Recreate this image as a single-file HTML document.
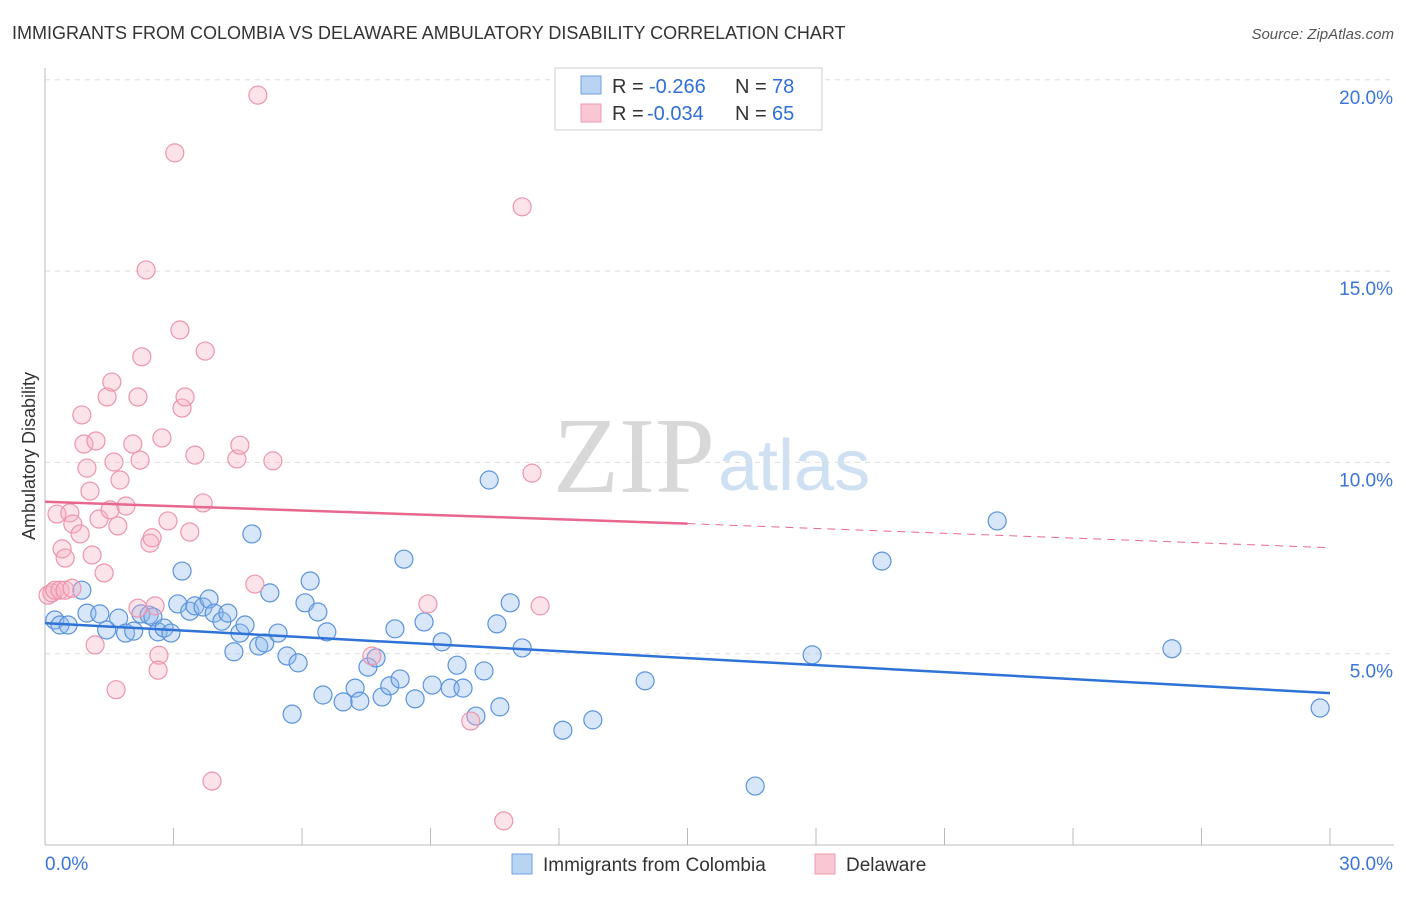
<!DOCTYPE html>
<html><head><meta charset="utf-8"><style>
body{margin:0;background:#fff;font-family:"Liberation Sans",sans-serif;}
svg text{font-family:"Liberation Sans",sans-serif;}
</style></head><body>
<svg id="c" width="1406" height="892" xmlns="http://www.w3.org/2000/svg">
<text x="12" y="39" font-size="18" fill="#333">IMMIGRANTS FROM COLOMBIA VS DELAWARE AMBULATORY DISABILITY CORRELATION CHART</text>
<text x="1394" y="39" font-size="15" fill="#555" text-anchor="end" font-style="italic">Source: ZipAtlas.com</text>
<text x="553" y="492" font-size="108" fill="#d8d8d8" style="font-family:'Liberation Serif',serif">ZIP</text>
<text x="718" y="490" font-size="72" fill="#cfe0f3">atlas</text>
<g id="grid"></g><g id="axes"></g>
<text transform="translate(35,456) rotate(-90)" font-size="18" fill="#333" text-anchor="middle">Ambulatory Disability</text>
<g id="pts"></g><g id="lines"></g>
<g>
<rect x="555" y="68" width="267" height="62" fill="#fff" stroke="#ccc"/>
<rect x="581" y="76" width="20" height="18" fill="#b9d3f3" stroke="#6fa0e0"/>
<rect x="581" y="104" width="20" height="18" fill="#f9c6d3" stroke="#ec9ab0"/>
<text x="612" y="93" font-size="20" fill="#333">R =</text><text x="649" y="93" font-size="20" fill="#2f6fd6">-0.266</text>
<text x="735" y="93" font-size="20" fill="#333">N =</text><text x="772" y="93" font-size="20" fill="#2f6fd6">78</text>
<text x="612" y="120" font-size="20" fill="#333">R =</text><text x="647" y="120" font-size="20" fill="#2f6fd6">-0.034</text>
<text x="735" y="120" font-size="20" fill="#333">N =</text><text x="772" y="120" font-size="20" fill="#2f6fd6">65</text>
</g>
<g>
<rect x="512" y="854" width="20" height="20" fill="#b9d3f3" stroke="#6fa0e0"/>
<text x="543" y="871" font-size="19" fill="#333">Immigrants from Colombia</text>
<rect x="815" y="854" width="20" height="20" fill="#f9c6d3" stroke="#ec9ab0"/>
<text x="846" y="871" font-size="19" fill="#333">Delaware</text>
</g>
</svg>
<script>
const blueX=[0.23,0.35,0.54,0.86,0.98,1.28,1.44,1.72,1.88,2.07,2.24,2.43,2.52,2.64,2.78,2.94,3.10,3.20,3.38,3.50,3.69,3.83,3.95,4.13,4.27,4.41,4.55,4.67,4.83,4.99,5.13,5.25,5.44,5.65,5.77,5.91,6.07,6.19,6.37,6.49,6.58,6.96,7.24,7.35,7.54,7.73,7.87,8.05,8.17,8.29,8.38,8.64,8.85,9.04,9.27,9.46,9.62,9.76,10.06,10.25,10.37,10.62,10.55,10.86,11.14,12.09,12.79,14.01,16.58,17.91,19.54,22.23,26.31,29.77];
const blueY=[5.88,5.75,5.75,6.66,6.06,6.04,5.62,5.93,5.54,5.59,6.04,6.01,5.96,5.57,5.67,5.54,6.30,7.16,6.11,6.25,6.22,6.43,6.06,5.85,6.06,5.05,5.54,5.75,8.13,5.20,5.28,6.59,5.54,4.94,3.42,4.76,6.33,6.90,6.09,3.92,5.57,3.74,4.10,3.76,4.65,4.89,3.87,4.16,5.65,4.34,7.47,3.82,5.83,4.18,5.31,4.10,4.70,4.10,3.37,4.55,9.54,3.61,5.78,6.33,5.15,3.00,3.27,4.29,1.54,4.97,7.42,8.47,5.13,3.58];
const pinkX=[0.07,0.16,0.23,0.35,0.47,0.63,0.28,0.40,0.47,0.58,0.65,0.82,0.86,0.91,0.98,1.05,1.10,1.17,1.19,1.26,1.38,1.45,1.52,1.56,1.61,1.66,1.70,1.75,1.89,2.05,2.17,2.22,2.26,2.36,2.17,2.45,2.50,2.57,2.66,2.64,2.73,2.87,3.03,3.15,3.20,3.27,3.38,3.50,3.69,3.74,3.90,4.48,4.55,4.90,4.97,5.32,7.63,8.94,9.94,10.71,11.14,11.37,11.56];
const pinkY=[6.53,6.59,6.66,6.66,6.66,6.71,8.65,7.74,7.50,8.68,8.39,8.13,11.24,10.48,9.85,9.25,7.58,5.23,10.56,8.52,7.11,11.71,8.76,12.10,10.01,4.06,8.34,9.54,8.86,10.48,11.71,10.06,12.76,15.03,6.19,7.89,8.03,6.25,4.96,4.57,10.64,8.47,18.09,13.46,11.42,11.71,8.18,10.19,8.94,12.91,1.67,10.09,10.45,6.82,19.60,10.04,4.94,6.30,3.24,0.63,16.68,9.72,6.25];
const X=v=>45+v/30*1285, Y=v=>845-v*38.26;
const NS="http://www.w3.org/2000/svg";
const mk=(p,t,a)=>{const e=document.createElementNS(NS,t);for(const k in a)e.setAttribute(k,a[k]);document.getElementById(p).appendChild(e);return e;};
[5,10,15,20].forEach(v=>{
 const l=mk('grid','line',{x1:45,x2:1394,y1:Y(v),y2:Y(v),stroke:'#ddd','stroke-dasharray':'5,5'});
 
 
 const t=mk('grid','text',{x:1393,y:Y(v)+24,'font-size':19,fill:'#3a75d8','text-anchor':'end'});t.textContent=v.toFixed(1)+'%';
 
 
});
mk('axes','line',{x1:45,x2:45,y1:68,y2:845,stroke:'#bbb'});
mk('axes','line',{x1:45,x2:1394,y1:845,y2:845,stroke:'#bbb'});
for(let i=0;i<=10;i++){const x=X(i*3);mk('axes','line',{x1:x,x2:x,y1:828,y2:845,stroke:'#bbb'});}
const xl=[['0.0%',45,'start'],['30.0%',1393,'end']];
xl.forEach(d=>{const t=mk('axes','text',{x:d[1],y:870,'font-size':19,fill:'#3a75d8','text-anchor':d[2]});t.textContent=d[0];
 
 });
blueX.forEach((v,i)=>{const c=mk('pts','circle',{cx:X(v),cy:Y(blueY[i]),r:9,fill:'rgba(140,182,236,0.35)',stroke:'#5b93dd','stroke-width':1.2});
 
 });
pinkX.forEach((v,i)=>{const c=mk('pts','circle',{cx:X(v),cy:Y(pinkY[i]),r:9,fill:'rgba(246,175,196,0.35)',stroke:'#ec95ad','stroke-width':1.2});
 
 });
const b=mk('lines','line',{x1:X(0),y1:Y(5.80),x2:X(30),y2:Y(3.97),stroke:'#2f72d8','stroke-width':2.5});


const p=mk('lines','line',{x1:X(0),y1:Y(8.97),x2:X(15),y2:Y(8.40),stroke:'#e8678f','stroke-width':2.5});


const pd=mk('lines','line',{x1:X(15),y1:Y(8.40),x2:X(30),y2:Y(7.77),stroke:'#e8678f','stroke-width':1,'stroke-dasharray':'8,6'});


</script>
</body></html>
